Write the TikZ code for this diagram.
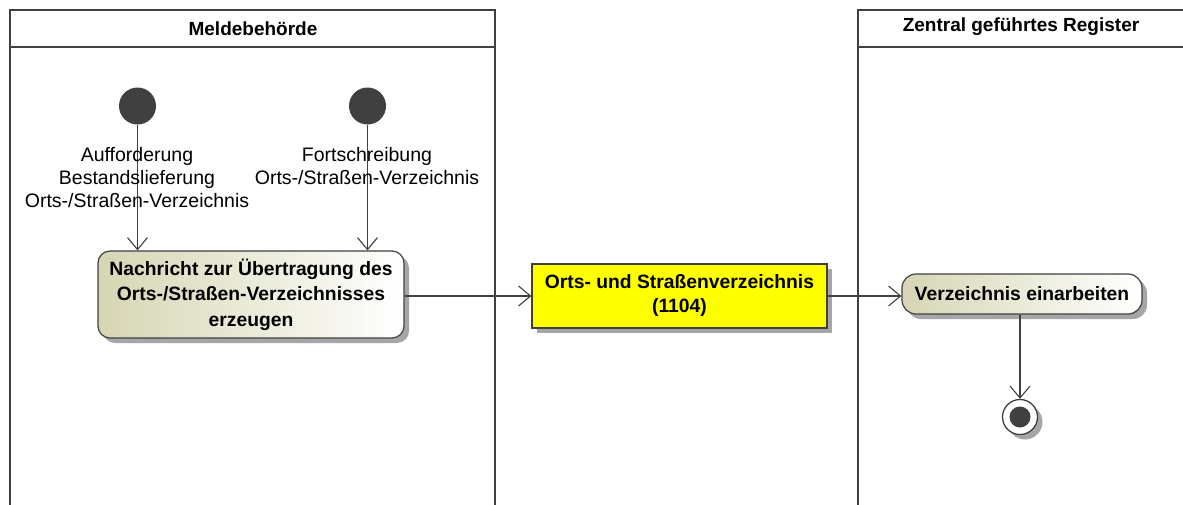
\documentclass[tikz,border=0pt]{standalone}
\usepackage{fontspec}
\setmainfont{Liberation Sans}
\usetikzlibrary{arrows.meta,shadows}
\definecolor{lanec}{HTML}{404040}
\definecolor{actl}{HTML}{D6D6B4}
\definecolor{objy}{HTML}{FFFF00}
\definecolor{shad}{HTML}{A6A6A6}
\definecolor{dotc}{HTML}{404040}
\tikzset{
  lane/.style={draw=lanec, line width=2pt},
  lanetitle/.style={font=\fontsize{19}{22}\selectfont\bfseries, anchor=base},
  action/.style={draw=lanec, line width=1.2pt, rounded corners=12pt, left color=actl, right color=white,
     align=center, font=\fontsize{19.3}{25.5}\selectfont\bfseries, inner sep=0pt,
     drop shadow={shadow xshift=5pt, shadow yshift=-5pt, fill=shad, opacity=1}},
  objbox/.style={draw=lanec, line width=1.2pt, fill=objy, align=center,
     font=\fontsize{19.3}{24}\selectfont\bfseries, inner sep=0pt,
     drop shadow={shadow xshift=5pt, shadow yshift=-5pt, fill=shad, opacity=1}},
  initnode/.style={circle, fill=dotc, minimum size=37pt, inner sep=0pt},
  flow/.style={draw=lanec, line width=1.1pt, -{Straight Barb[length=12pt, width=20pt, line width=1.1pt]}},
  lbl/.style={align=center, font=\fontsize{19.5}{23}\selectfont, inner sep=0pt, fill=none}
}
\begin{document}
\begin{tikzpicture}[x=1pt,y=-1pt]
\useasboundingbox (0,0) rectangle (1183,504);
\fill[white] (0,0) rectangle (1183,504);
% lanes
\begin{scope}
\clip (0,0) rectangle (1183,504);
\draw[lane] (10,520) -- (10,10) -- (495,10) -- (495,520);
\draw[lane] (10,47) -- (495,47);
\draw[lane] (858,520) -- (858,10) -- (1200,10);
\draw[lane] (858,47) -- (1200,47);
\end{scope}
\node[lanetitle] (t1) at (253,35.5) {Meldebehörde};
\node[lanetitle] (t2) at (1021,31.5) {Zentral geführtes Register};
% nodes
\node[initnode] (s1) at (137.5,106) {};
\node[initnode] (s2) at (367.5,106) {};
\node[action, minimum width=306pt, minimum height=87pt] (a1) at (251,294.5)
  {Nachricht zur Übertragung des\\Orts-/Straßen-Verzeichnisses\\erzeugen};
\node[objbox, minimum width=295pt, minimum height=64pt] (o1) at (679.5,296)
  {Orts- und Straßenverzeichnis\\(1104)};
\node[action, rounded corners=14pt, minimum width=240pt, minimum height=40pt] (a2) at (1022,294)
  {Verzeichnis einarbeiten};
% final node
\fill[shad] (1025,422) circle (17.5pt);
\node[circle, draw=lanec, line width=1.3pt, fill=white, minimum size=35pt, inner sep=0pt] (f) at (1020,417) {};
\fill[dotc] (f.center) circle (10.5pt);
% flows
\draw[flow] (s1) -- (s1 |- a1.north);
\draw[flow] (s2) -- (s2 |- a1.north);
\draw[flow] (a1.east |- o1.west) -- (o1.west);
\draw[flow] (o1.east) -- (a2.west |- o1.east);
\draw[flow] (a2.south -| f.north) -- (f.north);
% labels
\node[lbl] (l1) at (137,178) {Aufforderung\\Bestandslieferung\\Orts-/Straßen-Verzeichnis};
\node[lbl] (l2) at (367,166.5) {Fortschreibung\\Orts-/Straßen-Verzeichnis};
\end{tikzpicture}
\end{document}
